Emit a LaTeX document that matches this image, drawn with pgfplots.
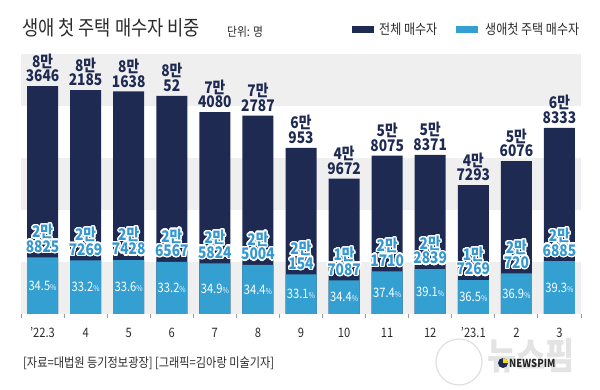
\documentclass[border=0pt]{standalone}
\usepackage{pgfplots}
\pgfplotsset{compat=1.18}
\usepackage{pgfplotstable}
\usepackage{fontspec}
\setmainfont{Noto Sans CJK KR}[FakeStretch=0.86]
\usepackage{contour}
\contourlength{1.3pt}
\contournumber{24}

\definecolor{navy}{HTML}{1F2A53}
\definecolor{fblue}{HTML}{34A0D2}
\definecolor{lblue}{HTML}{3598D0}
\definecolor{band}{HTML}{EFEFEF}
\definecolor{txt}{HTML}{2B2B2B}
\definecolor{axgray}{HTML}{9A9A9A}

\def\splitlab#1-#2\relax{#1만\\#2}
\def\splitlabc#1-#2\relax{\contour{white}{#1만}\\\contour{white}{#2}}

\pgfplotstableread{
x total tl first fl pct
0 83646 8-3646 28825 2-8825 34.5
1 82185 8-2185 27269 2-7269 33.2
2 81638 8-1638 27428 2-7428 33.6
3 80052 8-52 26567 2-6567 33.2
4 74080 7-4080 25824 2-5824 34.9
5 72787 7-2787 25004 2-5004 34.4
6 60953 6-953 20154 2-154 33.1
7 49672 4-9672 17087 1-7087 34.4
8 58075 5-8075 21710 2-1710 37.4
9 58371 5-8371 22839 2-2839 39.1
10 47293 4-7293 17269 1-7269 36.5
11 56076 5-6076 20720 2-720 36.9
12 68333 6-8333 26885 2-6885 39.3
}\chartdata

\begin{document}
\begin{tikzpicture}[x=1pt,y=1pt]
\path[use as bounding box] (0,0) rectangle (600,390);
% title and unit
\node[anchor=west, inner sep=0, font=\fontsize{20.5}{20.5}\selectfont, text=txt] at (22,362.5) {생애 첫 주택 매수자 비중};
\node[anchor=west, inner sep=0, font=\fontsize{12.5}{12.5}\selectfont, text=txt] at (227,358) {단위: 명};
% legend
\fill[navy] (352,357) rectangle (374,364);
\node[anchor=west, inner sep=0, font=\fontsize{14}{14}\selectfont, text=txt] at (379,360.5) {전체 매수자};
\fill[fblue] (456,357) rectangle (478,364);
\node[anchor=west, inner sep=0, font=\fontsize{14}{14}\selectfont, text=txt] at (485,360.5) {생애첫 주택 매수자};

\begin{axis}[
  at={(21pt,76pt)}, anchor=south west,
  scale only axis, width=560pt, height=260pt,
  xmin=-0.5, xmax=12.5, ymin=0, ymax=95400,
  axis y line=none, axis x line*=bottom,
  x axis line style={draw=axgray, line width=1pt, -},
  xtick={0,...,12},
  xticklabels={’22.3,4,5,6,7,8,9,10,11,12,’23.1,2,3},
  major tick length=0pt,
  extra x ticks={-0.5,0.5,...,12.5},
  extra x tick labels={},
  extra x tick style={tick align=outside, major tick length=4.5pt, tick style={draw=axgray, line width=1pt}},
  xticklabel style={font=\fontsize{13}{13}\selectfont, text=txt, anchor=center, yshift=-19pt},
  clip=false,
]
\fill[band] (axis cs:-0.5,0) rectangle (axis cs:12.5,19080);
\fill[band] (axis cs:-0.5,38160) rectangle (axis cs:12.5,57240);
\fill[band] (axis cs:-0.5,76320) rectangle (axis cs:12.5,95400);

\addplot[ybar, bar width=31pt, bar shift=0pt, fill=navy, draw=none,
  point meta=explicit symbolic,
  nodes near coords={\expandafter\splitlab\pgfplotspointmeta\relax},
  every node near coord/.append style={anchor=south, align=center, text=navy,
     font=\fontsize{16}{14.5}\selectfont\bfseries, inner sep=0pt, yshift=4pt}]
  table[x=x, y=total, meta=tl]{\chartdata};
\end{axis}

\begin{axis}[
  at={(21pt,76pt)}, anchor=south west,
  scale only axis, width=560pt, height=260pt,
  xmin=-0.5, xmax=12.5, ymin=0, ymax=132500,
  axis lines=none, clip=false,
]
\addplot[ybar, bar width=31pt, bar shift=0pt, fill=fblue, draw=none,
  point meta=explicit symbolic,
  nodes near coords={\expandafter\splitlabc\pgfplotspointmeta\relax},
  every node near coord/.append style={anchor=south, align=center, text=lblue,
     font=\fontsize{16}{14.5}\selectfont\bfseries, inner sep=0pt, yshift=3.5pt}]
  table[x=x, y=first, meta=fl]{\chartdata};

\addplot[draw=none, mark=none,
  point meta=explicit symbolic,
  nodes near coords={\pgfplotspointmeta{\fontsize{8}{8}\selectfont\%}},
  every node near coord/.append style={anchor=center, text=white,
     font=\fontsize{13}{13}\selectfont, inner sep=0pt}]
  table[x=x, y expr=\thisrow{first}/2, meta=pct]{\chartdata};
\end{axis}

% source
\node[anchor=west, inner sep=0, font=\fontsize{13}{13}\selectfont, text=txt] at (23,27) {[자료=대법원 등기정보광장] [그래픽=김아랑 미술기자]};
% watermark
\draw[gray!25, line width=1.2pt] (459,28) circle (23);
\node[font=\fontsize{37}{37}\selectfont\bfseries, text=gray!22] at (531,34) {뉴스핌};
\fill[navy] (503,27) circle (5);
\fill[yellow!80!orange] (503,27) -- ++(5,0) arc (0:90:5) -- cycle;
\node[anchor=west, inner sep=0, font=\fontsize{11}{11}\selectfont\bfseries, text=black!85] at (509,27) {NEWSPIM};
\end{tikzpicture}
\end{document}
